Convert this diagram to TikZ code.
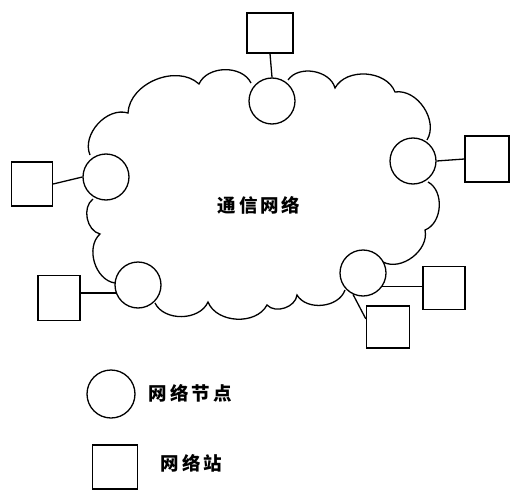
\documentclass[tikz,border=0pt]{standalone}
\usepackage{fontspec}
\newfontfamily\cjk[LetterSpace=16]{Noto Sans CJK SC}
\begin{document}
\begin{tikzpicture}[x=1pt,y=-1pt,line width=1.3pt,
  netnode/.style={draw,circle,fill=white,minimum size=46pt,inner sep=0pt},
  station/.style={draw,rectangle,inner sep=0pt,minimum width=43pt,minimum height=43pt},
  lbl/.style={font=\cjk\bfseries\fontsize{18.5}{18.5}\selectfont,inner sep=0pt},
  bump/.style={bend left=#1}]
\useasboundingbox (0,0) rectangle (510,489);
% cloud outline (between node circles)
\coordinate (a0) at (288,80);
\coordinate (a1) at (335,88);
\coordinate (a2) at (395,92);
\coordinate (a3) at (427,140);
\coordinate (a4) at (428,182);
\coordinate (a5) at (425,230);
\coordinate (a6) at (383,262);
\coordinate (a7) at (345,290);
\coordinate (a8) at (297,295);
\coordinate (a9) at (267,305);
\coordinate (a10) at (208,302);
\coordinate (a11) at (155,303);
\coordinate (a12) at (115,283);
\coordinate (a13) at (100,234);
\coordinate (a15) at (93,199);
\coordinate (a16) at (90,155);
\coordinate (a17) at (128,113);
\coordinate (a18) at (199,84);
\coordinate (a19) at (251,83);
\draw (a0) to[bump=65] (a1) to[bump=65] (a2) to[bump=65] (a3);
\draw (a4) to[bump=65] (a5) to[bump=65] (a6);
\draw (a7) to[bump=65] (a8) to[bump=65] (a9) to[bump=65] (a10) to[bump=65] (a11);
\draw (a12) to[bump=65] (a13) to[bump=65] (a15);
\draw (a16) to[bump=65] (a17) to[bump=65] (a18) to[bump=65] (a19);
% network nodes
\node[netnode] (tc) at (272,101) {};
\node[netnode] (lc) at (106,177) {};
\node[netnode] (rc) at (413,161) {};
\node[netnode] (blc) at (138,285) {};
\node[netnode] (brc) at (363,273) {};
% stations
\node[station,minimum width=46pt,minimum height=40pt] (ts) at (270,33) {};
\node[station,minimum width=41pt,minimum height=44pt] (ls) at (32,184) {};
\node[station,minimum width=44pt,minimum height=46pt] (rs) at (487,159) {};
\node[station,minimum width=42pt,minimum height=45pt] (bls) at (59,298) {};
\node[station,minimum width=42pt,minimum height=43pt] (brs1) at (444,288) {};
\node[station,minimum width=43pt,minimum height=42pt] (brs2) at (388,327) {};
% links
\draw (ts.south) -- (tc.north);
\draw (ls.east) -- (lc.west);
\draw (rc.east) -- (rs.west);
\draw (blc.200) -- (bls.east |- blc.200);
\draw (brc.-35) -- (brs1.west |- brc.-35);
\draw (brc.-115) -- (brs2.160);
% label
\node[lbl] (title) at (259,205) {通信网络};
% legend
\node[netnode,minimum size=48pt] (lgc) at (111,394) {};
\node[lbl,anchor=west] (lgct) at (148,393) {网络节点};
\node[station,minimum width=45pt,minimum height=44pt] (lgs) at (115,467) {};
\node[lbl,anchor=west] (lgst) at (160,463) {网络站};
\end{tikzpicture}
\end{document}
